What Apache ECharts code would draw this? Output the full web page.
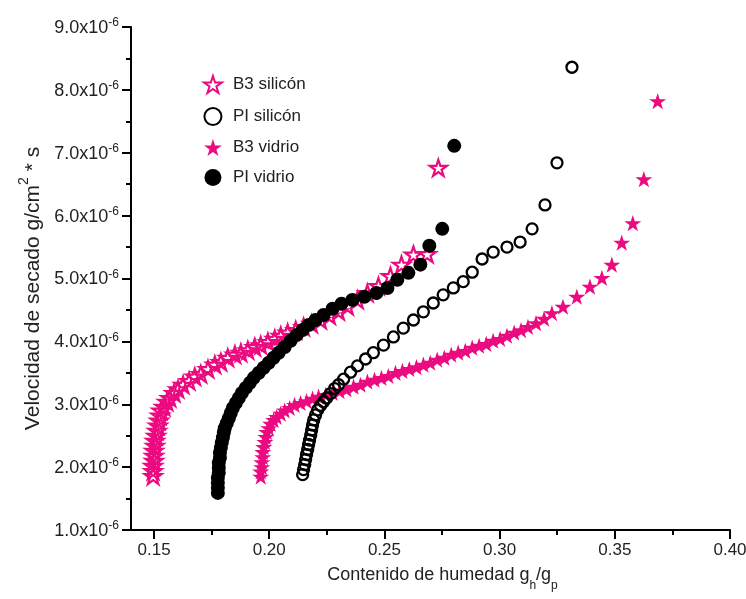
<!DOCTYPE html>
<html><head><meta charset="utf-8">
<script src="https://cdn.jsdelivr.net/npm/echarts@6/dist/echarts.min.js"></script>
<style>html,body{margin:0;padding:0;background:#fff}#c{width:746px;height:599px}</style>
</head><body><div id="c"></div>
<script>
// Names and ticks
const seriesNames = ['B3 silicón', 'PI silicón', 'B3 vidrio', 'PI vidrio'];
const xTicks = [0.15, 0.20, 0.25, 0.30, 0.35, 0.40];
const xMinorTicks = [0.175, 0.225, 0.275, 0.325, 0.375];
const yExponent = '-6'; // y values below are in units of 10^-6 g/cm2*s

// [moisture g_h/g_p, drying rate x10^-6]
const b3Silicon = [[0.1496,1.86],[0.1496,1.94],[0.1496,2.02],[0.1500,2.10],[0.1500,2.18],[0.1500,2.26],[0.1504,2.34],[0.1504,2.42],[0.1509,2.50],[0.1513,2.58],[0.1517,2.66],[0.1522,2.74],[0.1526,2.82],[0.1530,2.90],[0.1543,2.96],[0.1556,3.04],[0.1569,3.10],[0.1587,3.18],[0.1604,3.24],[0.1626,3.31],[0.1652,3.37],[0.1677,3.44],[0.1703,3.48],[0.1734,3.56],[0.1764,3.63],[0.1790,3.67],[0.1820,3.74],[0.1851,3.79],[0.1877,3.82],[0.1907,3.86],[0.1937,3.91],[0.1963,3.94],[0.1994,3.99],[0.2024,4.04],[0.2050,4.09],[0.2080,4.14],[0.2115,4.18],[0.2149,4.23],[0.2184,4.28],[0.2223,4.34],[0.2262,4.41],[0.2301,4.48],[0.2340,4.56],[0.2383,4.66],[0.2426,4.77],[0.2474,4.88],[0.2526,5.04],[0.2574,5.22],[0.2626,5.38],[0.2686,5.39],[0.2734,6.76]];
const piSilicon = [[0.2145,1.88],[0.2149,1.96],[0.2154,2.04],[0.2158,2.12],[0.2162,2.20],[0.2167,2.28],[0.2171,2.36],[0.2175,2.43],[0.2180,2.51],[0.2184,2.59],[0.2188,2.67],[0.2193,2.75],[0.2201,2.83],[0.2210,2.91],[0.2223,2.98],[0.2236,3.04],[0.2249,3.10],[0.2266,3.17],[0.2284,3.25],[0.2301,3.31],[0.2323,3.40],[0.2353,3.51],[0.2383,3.61],[0.2418,3.72],[0.2452,3.82],[0.2496,3.94],[0.2539,4.07],[0.2582,4.21],[0.2626,4.34],[0.2669,4.47],[0.2712,4.61],[0.2755,4.74],[0.2799,4.85],[0.2842,4.95],[0.2881,5.10],[0.2924,5.31],[0.2972,5.42],[0.3032,5.50],[0.3089,5.58],[0.3141,5.79],[0.3197,6.17],[0.3249,6.84],[0.3314,8.36]];
const b3Glass = [[0.1963,1.85],[0.1963,1.93],[0.1968,2.00],[0.1968,2.08],[0.1972,2.16],[0.1972,2.24],[0.1976,2.32],[0.1981,2.40],[0.1985,2.48],[0.1989,2.56],[0.1998,2.62],[0.2006,2.69],[0.2019,2.75],[0.2032,2.80],[0.2050,2.85],[0.2067,2.90],[0.2089,2.94],[0.2110,2.99],[0.2136,3.02],[0.2162,3.05],[0.2188,3.09],[0.2214,3.12],[0.2245,3.15],[0.2275,3.18],[0.2305,3.21],[0.2335,3.24],[0.2366,3.28],[0.2396,3.31],[0.2426,3.36],[0.2457,3.39],[0.2487,3.42],[0.2517,3.45],[0.2548,3.50],[0.2578,3.53],[0.2608,3.56],[0.2639,3.59],[0.2669,3.63],[0.2699,3.66],[0.2729,3.71],[0.2760,3.74],[0.2790,3.79],[0.2820,3.82],[0.2851,3.85],[0.2881,3.90],[0.2911,3.93],[0.2942,3.96],[0.2972,4.01],[0.3002,4.04],[0.3032,4.09],[0.3063,4.14],[0.3093,4.18],[0.3123,4.23],[0.3158,4.29],[0.3193,4.36],[0.3227,4.45],[0.3275,4.55],[0.3335,4.71],[0.3392,4.87],[0.3444,5.01],[0.3487,5.22],[0.3530,5.57],[0.3578,5.88],[0.3626,6.58],[0.3686,7.82]];
const piGlass = [[0.1777,1.59],[0.1777,1.67],[0.1777,1.75],[0.1777,1.83],[0.1781,1.91],[0.1781,1.99],[0.1781,2.07],[0.1786,2.15],[0.1786,2.23],[0.1790,2.31],[0.1794,2.39],[0.1799,2.47],[0.1803,2.55],[0.1807,2.62],[0.1816,2.70],[0.1825,2.78],[0.1833,2.86],[0.1842,2.94],[0.1855,3.02],[0.1868,3.10],[0.1881,3.18],[0.1898,3.26],[0.1916,3.34],[0.1933,3.42],[0.1955,3.50],[0.1976,3.58],[0.1998,3.66],[0.2019,3.74],[0.2041,3.82],[0.2067,3.91],[0.2093,4.01],[0.2119,4.10],[0.2145,4.18],[0.2171,4.26],[0.2201,4.34],[0.2236,4.42],[0.2275,4.52],[0.2314,4.60],[0.2361,4.66],[0.2413,4.71],[0.2465,4.77],[0.2513,4.85],[0.2556,4.98],[0.2604,5.09],[0.2656,5.22],[0.2695,5.52],[0.2751,5.79],[0.2803,7.11]];

const PINK = '#EC0A80';
const FONT = 'Liberation Sans, Arial, sans-serif';
const TXT = '#222';
const starPath = 'path://M50,0L61.2,34.5L97.6,34.5L68.2,55.9L79.4,90.5L50,69.1L20.6,90.5L31.8,55.9L2.4,34.5L38.8,34.5Z';

const chart = echarts.init(document.getElementById('c'), null, {renderer: 'canvas'});
chart.setOption({
  animation: false,
  backgroundColor: '#fff',
  grid: {left: 131, right: 16, top: 27, bottom: 69, containLabel: false, outerBoundsMode: 'none'},
  legend: {
    orient: 'vertical', left: 198, top: 70, itemWidth: 20, itemHeight: 17, itemGap: 13,
    data: seriesNames,
    textStyle: {fontSize: 17, color: TXT, fontFamily: FONT, padding: [0, 0, 0, 5]}
  },
  xAxis: [{
    type: 'value', min: 0.14, max: 0.40, position: 'bottom',
    axisLine: {show: true, onZero: false, lineStyle: {color: '#000', width: 2}},
    axisTick: {show: true, inside: false, length: 9, customValues: xTicks, lineStyle: {color: '#000', width: 2}},
    axisLabel: {customValues: xTicks, formatter: v => v.toFixed(2), fontSize: 17, color: TXT, fontFamily: FONT, margin: 12},
    splitLine: {show: false},
    name: '{t|Contenido de humedad g}{s|h}{t|/g}{s|p}',
    nameLocation: 'middle', nameGap: 36,
    nameTextStyle: {
      padding: [0, 0, 0, 24],
      rich: {
        t: {fontSize: 18, color: TXT, fontFamily: FONT, lineHeight: 22, verticalAlign: 'top'},
        s: {fontSize: 12, color: TXT, fontFamily: FONT, lineHeight: 26, verticalAlign: 'bottom'}
      }
    }
  }, {
    type: 'value', min: 0.14, max: 0.40, position: 'bottom', gridIndex: 0,
    axisLine: {show: false, onZero: false},
    axisTick: {show: true, inside: false, length: 5, customValues: xMinorTicks, lineStyle: {color: '#000', width: 2}},
    axisLabel: {show: false},
    splitLine: {show: false}
  }],
  yAxis: {
    type: 'value', min: 1, max: 9, interval: 1,
    axisLine: {show: true, onZero: false, lineStyle: {color: '#000', width: 2}},
    axisTick: {show: true, inside: false, length: 9, lineStyle: {color: '#000', width: 2}},
    minorTick: {show: true, splitNumber: 2, length: 5, lineStyle: {color: '#000', width: 2}},
    splitLine: {show: false}, minorSplitLine: {show: false},
    axisLabel: {
      margin: 12,
      formatter: v => '{m|' + v.toFixed(1) + 'x10}{e|' + yExponent + '}',
      rich: {
        m: {fontSize: 18, color: TXT, fontFamily: FONT, lineHeight: 20, verticalAlign: 'bottom'},
        e: {fontSize: 12, color: TXT, fontFamily: FONT, lineHeight: 12, verticalAlign: 'top'}
      }
    },
    name: '{t|Velocidad de secado g/cm}{u|2}{t| * s}',
    nameLocation: 'middle', nameRotate: 90, nameGap: 86,
    nameTextStyle: {
      padding: [0, 20, 0, 0],
      rich: {
        t: {fontSize: 21, color: TXT, fontFamily: FONT, lineHeight: 26, verticalAlign: 'bottom'},
        u: {fontSize: 14, color: TXT, fontFamily: FONT, lineHeight: 14, verticalAlign: 'top'}
      }
    }
  },
  series: [
    {name: seriesNames[0], type: 'scatter', data: b3Silicon, symbol: starPath, symbolKeepAspect: true, symbolSize: 17, z: 2,
     itemStyle: {color: 'rgba(255,255,255,0)', borderColor: PINK, borderWidth: 2.2, opacity: 1}},
    {name: seriesNames[1], type: 'scatter', data: piSilicon, symbol: 'circle', symbolSize: 11, z: 3,
     itemStyle: {color: 'rgba(255,255,255,0)', borderColor: '#000', borderWidth: 2.3, opacity: 1}},
    {name: seriesNames[2], type: 'scatter', data: b3Glass, symbol: starPath, symbolKeepAspect: true, symbolSize: 17, z: 2,
     itemStyle: {color: PINK, opacity: 1}},
    {name: seriesNames[3], type: 'scatter', data: piGlass, symbol: 'circle', symbolSize: 14, z: 3,
     itemStyle: {color: '#000', opacity: 1}}
  ]
});
</script></body></html>
